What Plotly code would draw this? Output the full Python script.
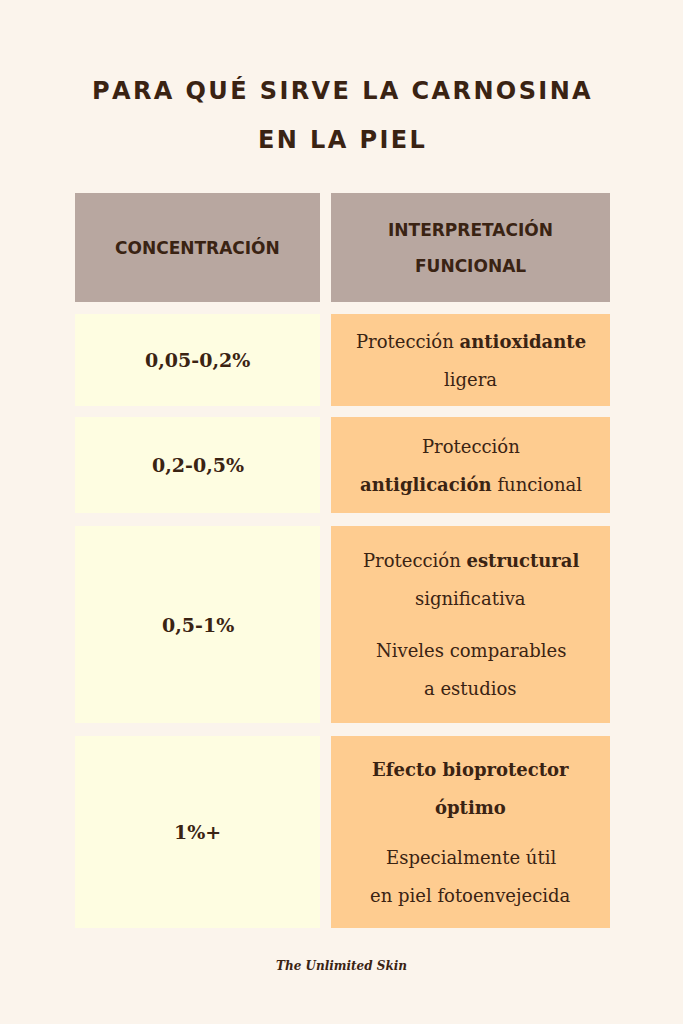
import plotly.graph_objects as go

title_lines = ["PARA QUÉ SIRVE LA CARNOSINA", "EN LA PIEL"]
headers = [["CONCENTRACIÓN"], ["INTERPRETACIÓN", "FUNCIONAL"]]
concentrations = ["0,05-0,2%", "0,2-0,5%", "0,5-1%", "1%+"]
interpretations = [
    [["Protección <b>antioxidante</b>", "ligera"]],
    [["Protección", "<b>antiglicación</b> funcional"]],
    [["Protección <b>estructural</b>", "significativa"], ["Niveles comparables", "a estudios"]],
    [["<b>Efecto bioprotector</b>", "<b>óptimo</b>"], ["Especialmente útil", "en piel fotoenvejecida"]],
]
footer = "The Unlimited Skin"

# layout (pixel space)
W, H = 683, 1024
left_x, right_x = (75, 320), (331, 610)
header_y = (193, 302)
row_y = [(314, 406), (417, 513), (526, 723), (736, 928)]
BG, HEAD, LEFT, RIGHT, INK = "#FBF4EC", "#B8A7A0", "#FEFDE1", "#FECC90", "#3A2313"
body_font = "DejaVu Serif"
title_font = "DejaVu Sans"
LINE = 38

fig = go.Figure()
shapes, ann = [], []

def cell(x, y, color):
    shapes.append(dict(type="rect", x0=x[0], x1=x[1], y0=y[0], y1=y[1],
                       fillcolor=color, line_width=0, layer="below"))

def text(x, y, s, size, font=body_font):
    ann.append(dict(x=x, y=y, text=s, showarrow=False, xanchor="center", yanchor="middle",
                    font=dict(family=font, size=size, color=INK)))

def lines(x, cy, ls, size, font=body_font, gap=LINE):
    start = cy - gap * (len(ls) - 1) / 2
    for j, s in enumerate(ls):
        text(x, start + j * gap, s, size, font)

def spaced(s):
    return "\u00a0\u2009".join("\u200a".join(w) for w in s.split(" "))

for i, line in enumerate(title_lines):
    text(W / 2, 90 + i * 50, "<b>" + spaced(line) + "</b>", 24, font=title_font)

cell(left_x, header_y, HEAD)
cell(right_x, header_y, HEAD)
for x, h in zip((left_x, right_x), headers):
    lines(sum(x) / 2, sum(header_y) / 2, ["<b>" + s + "</b>" for s in h], 17, title_font, 36)

for (y0, y1), conc, interp in zip(row_y, concentrations, interpretations):
    cell(left_x, (y0, y1), LEFT)
    cell(right_x, (y0, y1), RIGHT)
    text(sum(left_x) / 2, (y0 + y1) / 2, "<b>" + conc + "</b>", 19)
    n = len(interp)
    block = (y1 - y0) / n
    for k, ls in enumerate(interp):
        cy = y0 + block * (k + 0.5) + (4 if n > 1 and k == 0 else -4 if n > 1 else 0)
        lines(sum(right_x) / 2, cy, ls, 18)

text(W / 2, 966, "<b><i>" + footer + "</i></b>", 12)

fig.update_layout(
    width=W, height=H, margin=dict(l=0, r=0, t=0, b=0),
    paper_bgcolor=BG, plot_bgcolor=BG, shapes=shapes, annotations=ann,
    xaxis=dict(range=[0, W], visible=False, fixedrange=True),
    yaxis=dict(range=[H, 0], visible=False, fixedrange=True),
    showlegend=False,
)
fig.write_html("out.html", config={"displayModeBar": False},
               post_script="document.body.style.margin='0';document.body.style.background='%s';" % BG)
